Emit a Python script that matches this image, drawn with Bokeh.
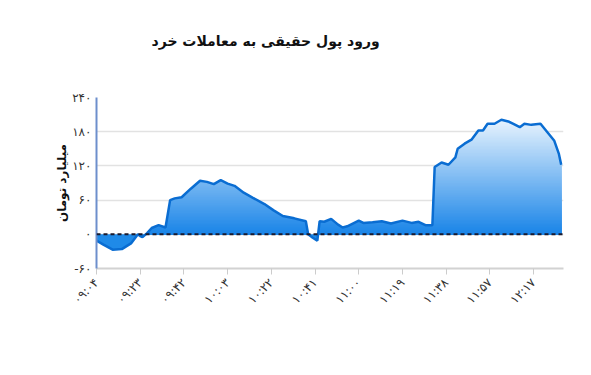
import numpy as np
from math import pi
from bokeh.plotting import figure
from bokeh.models import Span, Title, FixedTicker, Range1d
from bokeh.embed import file_html
from bokeh.resources import INLINE

# ---------------- data ----------------
sample = [0, 3, 7, 11, 15, 18, 19, 20, 22, 24, 27, 30, 32, 34, 37, 41, 45, 48, 51, 54,
          57, 60, 64, 68, 73, 77, 81, 86, 91, 92, 94, 96, 97, 99, 102, 105, 107, 109,
          114, 116, 120, 124, 128, 133, 137, 140, 143, 146, 147, 150, 153, 156, 157,
          160, 163, 166, 168, 170, 173, 176, 179, 181, 184, 186, 189, 193, 196, 199,
          201, 202]
flow = [-11, -18, -27, -26, -16, 0, -3, -5, 2, 11, 16, 12, 60, 63, 65, 80, 94, 92, 88, 95,
        89, 85, 73, 64, 53, 42, 32, 28, 23, 0, -6, -11, 23, 22, 27, 17, 12, 14,
        24, 20, 21, 23, 19, 24, 20, 22, 16, 16, 118, 126, 122, 135, 150,
        159, 166, 182, 182, 194, 194, 201, 198, 194, 188, 194, 192, 194, 179, 164,
        141, 122]

x_tick_pos = [0, 19, 38, 57, 76, 95, 114, 133, 152, 171, 190]
x_tick_labels = ["۰۹:۰۴", "۰۹:۲۳", "۰۹:۴۲", "۱۰:۰۳", "۱۰:۲۲", "۱۰:۴۱",
                 "۱۱:۰۰", "۱۱:۱۹", "۱۱:۳۸", "۱۱:۵۷", "۱۲:۱۷"]
y_tick_pos = [-60, 0, 60, 120, 180, 240]
y_tick_labels = ["-۶۰", "۰", "۶۰", "۱۲۰", "۱۸۰", "۲۴۰"]

title_text = "ورود پول حقیقی به معاملات خرد"
y_title = "میلیارد تومان"

FONT = "DejaVu Sans"

# ---------------- helpers ----------------
def clipped(xs, ys, lo, hi):
    ox, oy = [], []
    for i in range(len(xs)):
        if i > 0:
            x0, y0, x1, y1 = xs[i - 1], ys[i - 1], xs[i], ys[i]
            cr = []
            for b in (lo, hi):
                if (y0 - b) * (y1 - b) < 0:
                    t = (b - y0) / (y1 - y0)
                    cr.append((x0 + t * (x1 - x0), b))
            cr.sort()
            for cx, cy in cr:
                ox.append(cx)
                oy.append(cy)
        ox.append(xs[i])
        oy.append(min(max(ys[i], lo), hi))
    return ox, oy

# ---------------- figure ----------------
p = figure(width=583, height=367, output_backend="svg", toolbar_location=None,
           x_range=Range1d(0, 203), y_range=Range1d(-60, 240),
           min_border_left=96, min_border_right=20, min_border_top=97,
           min_border_bottom=99)
p.outline_line_color = None
p.background_fill_color = "white"
p.border_fill_color = "white"

# gradient fill (positive part)
c0 = np.array([24, 132, 232])
c1 = np.array([240, 248, 255])
levels = np.arange(210, 0, -2.5)
for hi in levels:
    t = min(max(hi / 210.0, 0), 1)
    col = tuple(int(v) for v in (c0 + (c1 - c0) * t))
    ox, oy = clipped(sample, flow, 0, hi)
    p.varea(x=ox, y1=[0] * len(ox), y2=oy, fill_color="#%02x%02x%02x" % col)

# negative part
nx, ny = clipped(sample, flow, -60, 0)
p.varea(x=nx, y1=ny, y2=[0] * len(nx), fill_color="#1f8ae8")

p.line(sample, flow, line_color="#0a6dd2", line_width=2.5)

p.add_layout(Span(location=0, dimension="width", line_color="#1a1a2e",
                  line_width=2, line_dash="4 3"))

# grid
p.xgrid.visible = False
p.ygrid.grid_line_color = "#e2e2e2"
p.ygrid.grid_line_width = 1.5
p.ygrid.ticker = FixedTicker(ticks=y_tick_pos)

# y axis
p.yaxis.ticker = FixedTicker(ticks=y_tick_pos)
p.yaxis.major_label_overrides = {k: v for k, v in zip(y_tick_pos, y_tick_labels)}
p.yaxis.axis_line_color = "#6d8fcc"
p.yaxis.axis_line_width = 2
p.yaxis.major_tick_out = 0
p.yaxis.major_tick_in = 0
p.yaxis.minor_tick_out = 0
p.yaxis.minor_tick_in = 0
p.yaxis.major_label_text_font = FONT
p.yaxis.major_label_text_font_size = "12px"
p.yaxis.major_label_text_color = "#333333"
p.yaxis.major_label_standoff = 5
p.yaxis.axis_label = y_title
p.yaxis.axis_label_text_font = FONT
p.yaxis.axis_label_text_font_style = "bold"
p.yaxis.axis_label_text_font_size = "12px"
p.yaxis.axis_label_text_color = "#111111"
p.yaxis.axis_label_standoff = 0

# x axis
p.xaxis.ticker = FixedTicker(ticks=x_tick_pos)
p.xaxis.major_label_overrides = {k: v for k, v in zip(x_tick_pos, x_tick_labels)}
p.xaxis.axis_line_color = "#d2d2d2"
p.xaxis.axis_line_width = 2
p.xaxis.major_tick_out = 6
p.xaxis.major_tick_in = 0
p.xaxis.major_tick_line_color = "#cccccc"
p.xaxis.minor_tick_out = 0
p.xaxis.minor_tick_in = 0
p.xaxis.major_label_orientation = pi / 4
p.xaxis.major_label_text_font = FONT
p.xaxis.major_label_text_font_size = "12px"
p.xaxis.major_label_text_color = "#333333"
p.xaxis.major_label_standoff = 6

# spacer between the frame and the title (nearest to the frame)
p.add_layout(Title(text=" ", standoff=31, text_font=FONT, text_font_size="14px"), "above")

# title (outermost in the above panel)
p.title.text = title_text
p.title.align = "left"
p.title.offset = 55
p.title.standoff = 0
p.title.text_font = FONT
p.title.text_font_style = "bold"
p.title.text_font_size = "14px"
p.title.text_color = "#111111"

open("out.html", "w").write(file_html(p, INLINE))
